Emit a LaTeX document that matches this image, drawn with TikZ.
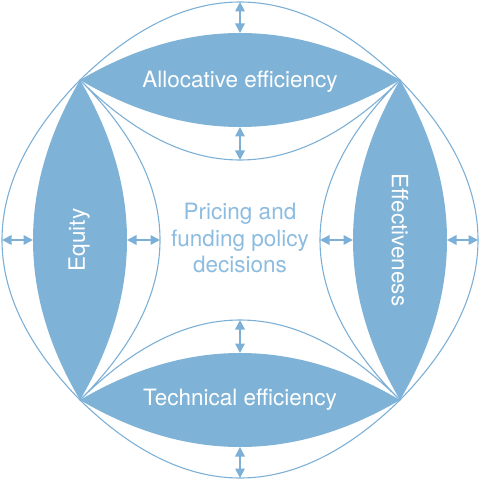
\documentclass[tikz,border=0pt]{standalone}
\usepackage{fontspec}
\setmainfont{TeX Gyre Heros}
\usetikzlibrary{arrows.meta}
\definecolor{lensblue}{RGB}{126,178,214}
\definecolor{lineblue}{RGB}{125,176,214}
\definecolor{textblue}{RGB}{140,188,224}
\begin{document}
\begin{tikzpicture}[x=1pt,y=-1pt,
  lens/.style={fill=lensblue,draw=none},
  curve/.style={draw=lineblue,line width=1.1pt},
  dbl/.style={draw=lineblue,line width=1.8pt,{Triangle[width=9.5pt,length=9.5pt]}-{Triangle[width=9.5pt,length=9.5pt]}},
  lbl/.style={text=white,font=\fontsize{22.5}{26}\selectfont},
  ctr/.style={text=textblue,font=\fontsize{22.5}{26.5}\selectfont,align=center}]
\useasboundingbox (0,0) rectangle (480,481);
\coordinate (TL) at (80,80);
\coordinate (TR) at (400,80);
\coordinate (BL) at (80,400);
\coordinate (BR) at (400,400);
% lenses
\fill[lens] (TL) .. controls (186.67,17.33) and (293.33,17.33) .. (TR)
  .. controls (293.33,142.67) and (186.67,142.67) .. (TL) -- cycle;
\fill[lens] (BL) .. controls (186.67,462.67) and (293.33,462.67) .. (BR)
  .. controls (293.33,337.33) and (186.67,337.33) .. (BL) -- cycle;
\fill[lens] (TL) .. controls (17.33,186.67) and (17.33,293.33) .. (BL)
  .. controls (142.67,293.33) and (142.67,186.67) .. (TL) -- cycle;
\fill[lens] (TR) .. controls (462.67,186.67) and (462.67,293.33) .. (BR)
  .. controls (337.33,293.33) and (337.33,186.67) .. (TR) -- cycle;
% outer curves
\draw[curve] (TL) .. controls (186.67,-24) and (293.33,-24) .. (TR)
  .. controls (504,186.67) and (504,293.33) .. (BR)
  .. controls (293.33,504) and (186.67,504) .. (BL)
  .. controls (-24,293.33) and (-24,186.67) .. (TL) -- cycle;
% inner curves
\draw[curve] (TL) .. controls (186.67,186.67) and (293.33,186.67) .. (TR)
  .. controls (293.33,186.67) and (293.33,293.33) .. (BR)
  .. controls (293.33,293.33) and (186.67,293.33) .. (BL)
  .. controls (186.67,293.33) and (186.67,186.67) .. (TL) -- cycle;
% apex coordinates
\coordinate (to) at (240,2);   \coordinate (tl) at (240,33);
\coordinate (ti) at (240,127); \coordinate (tn) at (240,160);
\coordinate (bo) at (240,478); \coordinate (bl) at (240,447);
\coordinate (bi) at (240,353); \coordinate (bn) at (240,320);
\coordinate (lo) at (2,240);   \coordinate (ll) at (33,240);
\coordinate (li) at (127,240); \coordinate (ln) at (160,240);
\coordinate (ro) at (478,240); \coordinate (rl) at (447,240);
\coordinate (ri) at (353,240); \coordinate (rn) at (320,240);
% arrows
\draw[dbl] (to) -- (tl);
\draw[dbl] (ti) -- (tn);
\draw[dbl] (bo) -- (bl);
\draw[dbl] (bi) -- (bn);
\draw[dbl] (lo) -- (ll);
\draw[dbl] (li) -- (ln);
\draw[dbl] (ro) -- (rl);
\draw[dbl] (ri) -- (rn);
% labels
\node[lbl] (alloc) at (240,81.5) {Allocative efficiency};
\node[lbl] (tech) at (240,400) {Technical efficiency};
\node[lbl,rotate=90] (eq) at (79,240) {Equity};
\node[lbl,rotate=-90] (eff) at (400,240) {Effectiveness};
\node[ctr] (center) at (240,238) {Pricing and\\funding policy\\decisions};
\end{tikzpicture}
\end{document}
